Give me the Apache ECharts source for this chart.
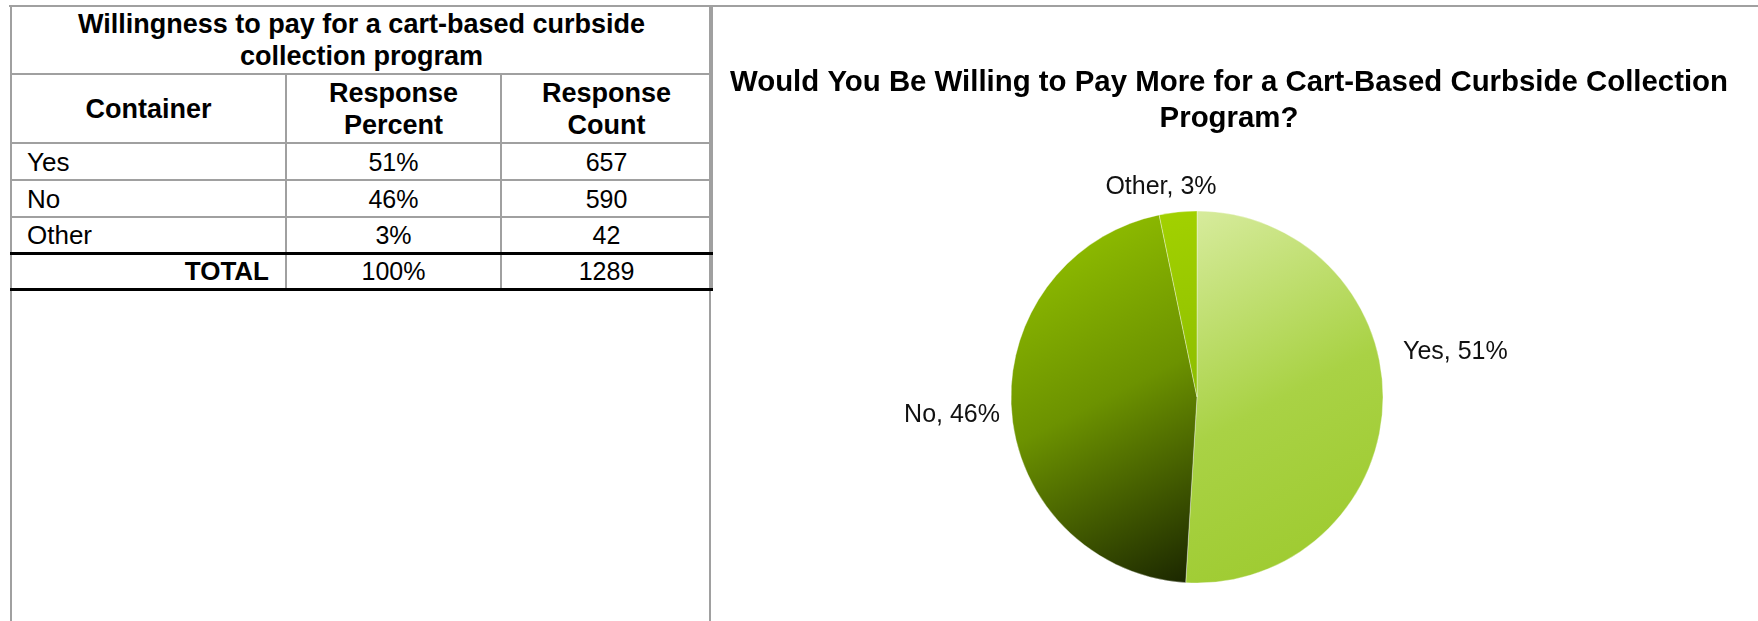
<!DOCTYPE html>
<html>
<head>
<meta charset="utf-8">
<title>Willingness to pay</title>
<script src="https://cdn.jsdelivr.net/npm/echarts@6/dist/echarts.min.js"></script>
<style>
  html, body {
    margin: 0;
    padding: 0;
    background: #fff;
  }
  body {
    width: 1758px;
    height: 621px;
    position: relative;
    overflow: hidden;
    font-family: 'Liberation Sans', Arial, sans-serif;
    color: #000;
  }
  .topline {
    position: absolute;
    left: 9px;
    right: 0;
    top: 5px;
    height: 2px;
    background: #a0a0a0;
  }
  .vline {
    position: absolute;
    top: 5px;
    bottom: 0;
    width: 2px;
    background: #a0a0a0;
  }
  #tbl {
    position: absolute;
    left: 10px;
    top: 5px;
    width: 701px;
    border-collapse: collapse;
    table-layout: fixed;
  }
  #tbl td {
    border: 2px solid #a0a0a0;
    padding: 0;
    font-size: 26px;
    line-height: 28px;
    white-space: nowrap;
  }
  #tbl .head {
    font-weight: bold;
    text-align: center;
    font-size: 27px;
    line-height: 32px;
  }
  #tbl .name { padding-left: 15px; }
  #tbl .num { text-align: center; font-size: 25px; }
  #tbl .total td { border-top: 3px solid #000; border-bottom: 3px solid #000; }
  #tbl .total .name { font-weight: bold; text-align: right; padding-right: 16px; }
  #pie {
    position: absolute;
    left: 711px;
    top: 7px;
    width: 1036px;
    height: 614px;
  }
</style>
</head>
<body>
<div class="topline"></div>
<div class="vline" style="left:10px"></div>
<div class="vline" style="left:709px"></div>
<table id="tbl">
  <colgroup>
    <col style="width:275px">
    <col style="width:215px">
    <col style="width:211px">
  </colgroup>
  <tbody id="tbody"></tbody>
</table>
<div id="pie"></div>
<script>
  // 表格与饼图数据
  const categories = ['Yes', 'No', 'Other'];
  const responsePercents = ['51%', '46%', '3%'];
  const responseCounts = [657, 590, 42];
  const totalPercent = '100%';
  const totalCount = 1289;

  const tableTitle = 'Willingness to pay for a cart-based curbside<br>collection program';
  const chartTitle = 'Would You Be Willing to Pay More for a Cart-Based Curbside Collection\nProgram?';

  // 饼图圆心 / 半径（容器坐标）
  const pieCenter = [486, 390];
  const pieRadius = 186;
  // 标签相对圆心的位置
  const labelOffsets = [[206, -45, 'left'], [-197, 18, 'right'], [-36, -210, 'center']];

  const sliceColors = [
    ['#d8ec9f', '#a9d245', '#9bc92a'],
    ['#98c800', '#6c9200', '#192400'],
    ['#a2d100', '#98c800', '#8cbd00']
  ];

  /** 表格 **/
  let rows = '';
  rows += '<tr style="height:68px"><td class="head" colspan="3">' + tableTitle + '</td></tr>';
  rows += '<tr style="height:69px"><td class="head">Container</td>' +
    '<td class="head">Response<br>Percent</td><td class="head">Response<br>Count</td></tr>';
  const rowHeights = [37, 37, 36];
  categories.forEach((c, i) => {
    rows += '<tr style="height:' + rowHeights[i] + 'px"><td class="name">' + c + '</td>' +
      '<td class="num">' + responsePercents[i] + '</td>' +
      '<td class="num">' + responseCounts[i] + '</td></tr>';
  });
  rows += '<tr class="total" style="height:36px"><td class="name">TOTAL</td>' +
    '<td class="num">' + totalPercent + '</td><td class="num">' + totalCount + '</td></tr>';
  document.getElementById('tbody').innerHTML = rows;

  /** 饼图 **/
  let chart = echarts.init(document.getElementById('pie'));
  let pieData = categories.map((c, i) => ({
    name: c,
    value: responseCounts[i],
    itemStyle: {
      color: {
        type: 'linear', x: 0, y: 0, x2: 1, y2: 1,
        colorStops: [
          {offset: 0, color: sliceColors[i][0]},
          {offset: 0.5, color: sliceColors[i][1]},
          {offset: 1, color: sliceColors[i][2]}
        ]
      }
    }
  }));

  let option = {
    animation: false,
    title: {
      text: chartTitle,
      left: 'center',
      top: 58,
      padding: 0,
      textStyle: {
        fontFamily: 'Liberation Sans',
        fontSize: 29.4,
        fontWeight: 'bold',
        lineHeight: 36,
        color: '#000'
      }
    },
    series: [
      {
        type: 'pie',
        center: pieCenter,
        radius: pieRadius,
        startAngle: 90,
        clockwise: true,
        percentPrecision: 0,
        avoidLabelOverlap: false,
        data: pieData,
        itemStyle: {
          borderColor: 'rgba(255,255,255,0.35)',
          borderWidth: 1
        },
        emphasis: {disabled: true},
        label: {
          show: true,
          position: 'outside',
          formatter: '{b}, {d}%',
          fontFamily: 'Liberation Sans',
          fontSize: 25,
          color: '#111'
        },
        labelLine: {show: false},
        labelLayout: function (params) {
          let o = labelOffsets[params.dataIndex];
          return {
            x: pieCenter[0] + o[0],
            y: pieCenter[1] + o[1],
            align: o[2],
            verticalAlign: 'middle'
          };
        }
      }
    ]
  };
  chart.setOption(option);
</script>
</body>
</html>
